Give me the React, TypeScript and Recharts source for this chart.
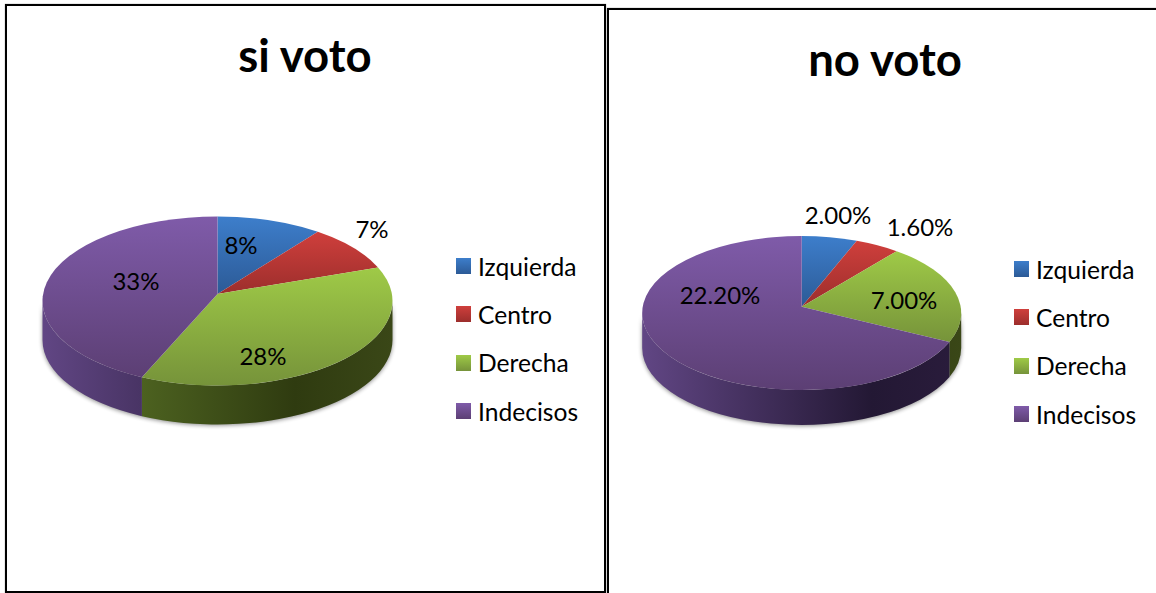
import React from 'react';
import { PieChart, Pie, Legend } from 'recharts';

const categories = ['Izquierda', 'Centro', 'Derecha', 'Indecisos'];
const siVotoValues = [8, 7, 28, 33];
const noVotoValues = [2, 1.6, 7, 22.2];
const siVotoLabels = ['8%', '7%', '28%', '33%'];
const noVotoLabels = ['2.00%', '1.60%', '7.00%', '22.20%'];

// top of slice goes light -> dark, walls are much darker
const topLight = ['#3d7ecb', '#cf3f3c', '#9fca47', '#7f5ba9'];
const topDark = ['#2c5a96', '#9c2e2c', '#76933a', '#5c3f74'];
const wallLight = ['#2f5f9e', '#9c2e2c', '#5f7a2a', '#614684'];
const wallDark = ['#1b3659', '#531817', '#2f3b10', '#231834'];
const wallEnd = ['#1f3d66', '#5f1c1a', '#3a4717', '#2a1c3c'];

const FONT = 'Lato, "Open Sans", sans-serif';

type PanelCfg = {
  id: string;
  title: string;
  values: number[];
  labels: string[];
  left: number;
  width: number;
  titleX: number;
  titleY: number;
  apexX: number;
  apexY: number;
  rx: number;
  ry: number;
  lift: number; // ellipse centre sits this far under the apex (perspective)
  depth: number;
  labelAt: [number, number][];
  legendX: number;
  legendY: number;
};

const panels: PanelCfg[] = [
  {
    id: 'si',
    title: 'si voto',
    values: siVotoValues,
    labels: siVotoLabels,
    left: 0,
    width: 606,
    titleX: 305,
    titleY: 72,
    apexX: 217.5,
    apexY: 294,
    rx: 175,
    ry: 84.5,
    lift: 7,
    depth: 39,
    labelAt: [[241, 244], [372, 228], [263, 355], [136, 280]],
    legendX: 456,
    legendY: 242,
  },
  {
    id: 'no',
    title: 'no voto',
    values: noVotoValues,
    labels: noVotoLabels,
    left: 606,
    width: 550,
    titleX: 279,
    titleY: 76,
    apexX: 195.7,
    apexY: 306.7,
    rx: 159.5,
    ry: 77,
    lift: 6.3,
    depth: 35,
    labelAt: [[232, 214], [314, 226], [298, 299], [114, 294]],
    legendX: 408,
    legendY: 245,
  },
];

// where the ray from the apex at pie angle hits the rim, relative to ellipse centre
const rimPoint = (angle: number, rx: number, ry: number, lift: number) => {
  const t = ((90 - angle) * Math.PI) / 180;
  const dx = Math.sin(t);
  const dy = -Math.cos(t);
  const a = dx * dx + (dy * dy);
  const b = (2 * -lift * dy * ry) / (ry * ry);
  const c = (lift * lift) / (ry * ry) - 1;
  const k = (-b + Math.sqrt(b * b - 4 * a * c)) / (2 * a);
  return { x: dx * k * rx, y: -lift + dy * k * ry };
};

const rimParam = (p: { x: number; y: number }, rx: number, ry: number) => {
  let a = Math.atan2(p.y / ry, p.x / rx);
  if (a < -Math.PI / 2) a += Math.PI * 2;
  return a;
};

const TopSlice = (props: any) => {
  const { cx, cy, outerRadius: rx, startAngle, endAngle, payload, panel } = props;
  const { ry, lift } = panel;
  const ecy = cy + lift;
  const p1 = rimPoint(startAngle, rx, ry, lift);
  const p2 = rimPoint(endAngle, rx, ry, lift);
  const a1 = rimParam(p1, rx, ry);
  let a2 = rimParam(p2, rx, ry);
  if (a2 <= a1) a2 += Math.PI * 2;
  const large = a2 - a1 > Math.PI ? 1 : 0;
  const d = `M${cx},${cy} L${cx + p1.x},${ecy + p1.y} A${rx},${ry} 0 ${large} 1 ${cx + p2.x},${ecy + p2.y} Z`;
  return <path d={d} fill={`url(#${panel.id}-top-${payload.idx})`} />;
};

const wallPath = (props: any) => {
  const { cx, cy, outerRadius: rx, startAngle, endAngle, panel } = props;
  const { ry, lift, depth } = panel;
  const ecy = cy + lift;
  const a1 = rimParam(rimPoint(startAngle, rx, ry, lift), rx, ry);
  let a2 = rimParam(rimPoint(endAngle, rx, ry, lift), rx, ry);
  if (a2 <= a1) a2 += Math.PI * 2;
  const lo = Math.max(a1, 0);
  const hi = Math.min(a2, Math.PI);
  if (lo >= hi) return null;
  const x1 = cx + rx * Math.cos(lo);
  const y1 = ecy + ry * Math.sin(lo);
  const x2 = cx + rx * Math.cos(hi);
  const y2 = ecy + ry * Math.sin(hi);
  return `M${x1},${y1} A${rx},${ry} 0 0 1 ${x2},${y2} L${x2},${y2 + depth} A${rx},${ry} 0 0 0 ${x1},${y1 + depth} Z`;
};

const WallSlice = (props: any) => {
  const d = wallPath(props);
  if (!d) return <g />;
  return <path d={d} fill={`url(#${props.panel.id}-wall-${props.payload.idx})`} />;
};

const ShadowSlice = (props: any) => {
  const d = wallPath(props);
  if (!d) return <g />;
  return <path d={d} fill="#000" opacity={0.45} transform="translate(0,1)" style={{ filter: 'blur(2px)' }} />;
};

const LegendRows = () => (
  <div style={{ fontFamily: FONT, fontSize: 24.6, color: '#000' }}>
    {categories.map((name, i) => (
      <div key={name} style={{ display: 'flex', alignItems: 'center', height: 48.3 }}>
        <span
          style={{
            width: 15,
            height: 16,
            marginRight: 7,
            background: `linear-gradient(${topLight[i]}, ${topDark[i]})`,
          }}
        />
        <span>{name}</span>
      </div>
    ))}
  </div>
);

const VotePie = ({ panel }: { panel: PanelCfg }) => {
  const table = categories.map((name, idx) => ({ name, idx, value: panel.values[idx] }));
  const common = {
    data: table,
    dataKey: 'value',
    nameKey: 'name',
    cx: panel.apexX,
    cy: panel.apexY,
    innerRadius: 0,
    outerRadius: panel.rx,
    startAngle: 90,
    endAngle: -270,
    stroke: 'none',
    isAnimationActive: false,
  };
  const x0 = panel.apexX - panel.rx;
  const x1 = panel.apexX + panel.rx;

  return (
    <div style={{ position: 'absolute', left: panel.left, top: 0 }}>
      <PieChart width={panel.width} height={593} margin={{ top: 0, right: 0, bottom: 0, left: 0 }}>
        <defs>
          {categories.map((_, i) => (
            <linearGradient key={`t${i}`} id={`${panel.id}-top-${i}`} x1="0" y1="0" x2="0" y2="1">
              <stop offset="0%" stopColor={topLight[i]} />
              <stop offset="100%" stopColor={topDark[i]} />
            </linearGradient>
          ))}
          {categories.map((_, i) => (
            <linearGradient
              key={`w${i}`}
              id={`${panel.id}-wall-${i}`}
              gradientUnits="userSpaceOnUse"
              x1={x0}
              y1="0"
              x2={x1}
              y2="0"
            >
              <stop offset="0%" stopColor={wallLight[i]} />
              <stop offset="72%" stopColor={wallDark[i]} />
              <stop offset="100%" stopColor={wallEnd[i]} />
            </linearGradient>
          ))}
        </defs>
        <text
          x={panel.titleX}
          y={panel.titleY}
          textAnchor="middle"
          fontFamily={FONT}
          fontWeight={700}
          fontSize={45.5}
          fill="#000"
        >
          {panel.title}
        </text>
        <Pie {...common} legendType="none" shape={(p: any) => <ShadowSlice {...p} panel={panel} />} />
        <Pie {...common} legendType="none" shape={(p: any) => <WallSlice {...p} panel={panel} />} />
        <Pie
          {...common}
          shape={(p: any) => <TopSlice {...p} panel={panel} />}
          labelLine={false}
          label={(p: any) => {
            const [x, y] = panel.labelAt[p.index];
            return (
              <text
                key={p.index}
                x={x}
                y={y}
                textAnchor="middle"
                dominantBaseline="central"
                fontFamily={FONT}
                fontSize={24}
                fill="#000"
              >
                {panel.labels[p.index]}
              </text>
            );
          }}
        />
        <Legend
          content={<LegendRows />}
          layout="vertical"
          wrapperStyle={{ position: 'absolute', left: panel.legendX, top: panel.legendY, width: 150, bottom: 'auto' }}
        />
      </PieChart>
    </div>
  );
};

export default function App() {
  return (
    <div style={{ position: 'absolute', left: 0, top: 0, width: 1156, height: 593, overflow: 'hidden', background: '#fff' }}>
      <div
        style={{
          position: 'absolute',
          left: 5,
          top: 4,
          width: 597,
          height: 585,
          border: '2px solid #000',
          boxShadow: '0 0 1px #777',
        }}
      />
      <div
        style={{
          position: 'absolute',
          left: 607,
          top: 8,
          width: 560,
          height: 600,
          borderLeft: '2px solid #000',
          borderTop: '2px solid #000',
          boxShadow: '0 0 1px #777',
        }}
      />
      {panels.map((panel) => (
        <VotePie key={panel.id} panel={panel} />
      ))}
    </div>
  );
}
